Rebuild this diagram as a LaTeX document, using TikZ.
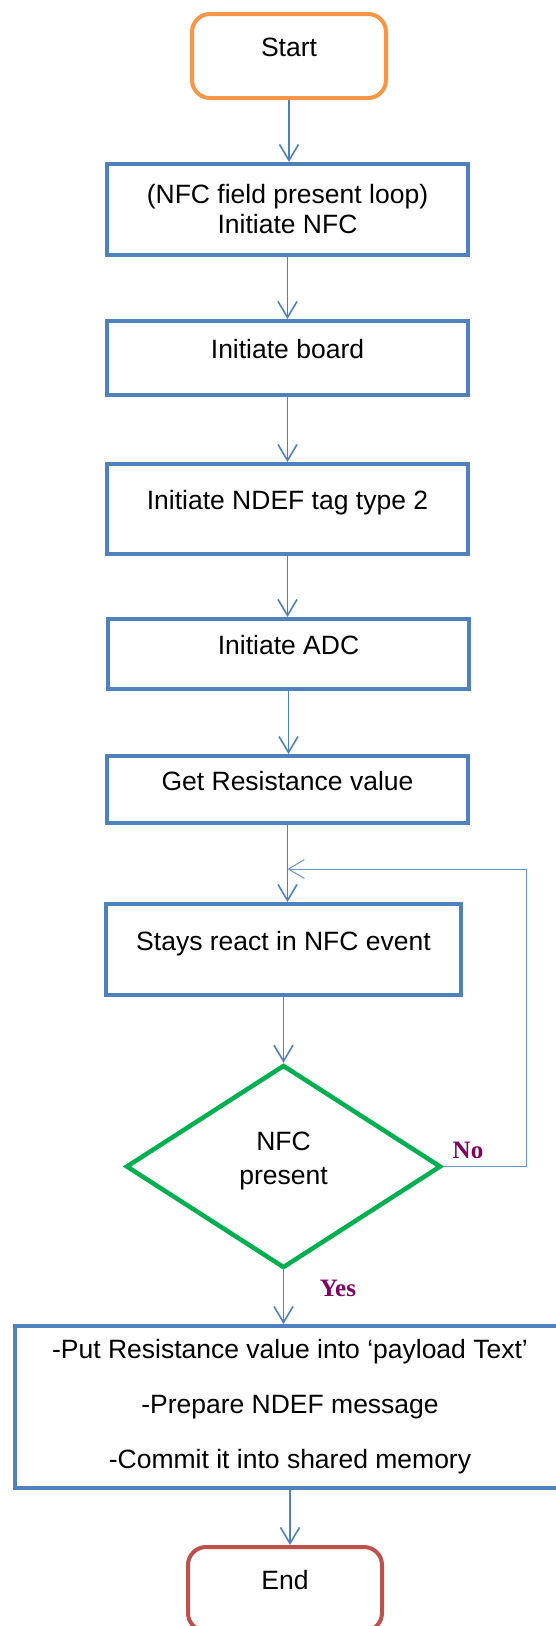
\documentclass[tikz,border=0pt]{standalone}
\usepackage{fontspec}
\setmainfont{Liberation Sans}
\newfontfamily\answerfont{Liberation Serif}
\usepackage{tikz}
\usetikzlibrary{arrows.meta}
\usetikzlibrary{shapes.geometric}
\definecolor{flowblue}{RGB}{79,129,189}
\definecolor{startorange}{RGB}{247,150,70}
\definecolor{stopred}{RGB}{192,80,77}
\definecolor{testgreen}{RGB}{0,176,80}
\definecolor{answercol}{RGB}{128,0,96}

\begin{document}
\begin{tikzpicture}[x=1pt,y=-1pt,
  every node/.style={font=\fontsize{26.5}{30}\selectfont,align=center},
  proc/.style={draw=flowblue,line width=4pt,minimum width=361pt,inner sep=0pt},
  lifted/.style={text height=19pt,text depth=18pt},
  term/.style={rounded corners=18pt,line width=4pt,minimum width=194pt,minimum height=84pt,inner sep=0pt,lifted},
  test/.style={diamond,draw=testgreen,line width=4.5pt,minimum width=315pt,minimum height=203pt,inner sep=0pt,text depth=17pt},
  flow/.style={draw=flowblue,line width=1.6pt,-{Straight Barb[length=16pt,width=19pt]}},
  loopline/.style={draw=flowblue!85,line width=1pt,-{Straight Barb[length=16pt,width=19pt]}},
  answer/.style={font=\answerfont\bfseries\fontsize{25}{28}\selectfont,text=answercol}]
  \useasboundingbox (0,0) rectangle (556,1626);

  \node[term,draw=startorange] (start) at (289,56) {Start};
  \node[proc,minimum height=91pt] (nfc) at (287.5,209.5) {(NFC field present loop)\\Initiate NFC};
  \node[proc,lifted,minimum height=74pt] (board) at (287.5,358) {Initiate board};
  \node[proc,lifted,minimum height=90pt] (ndef) at (287.5,509) {Initiate NDEF tag type 2};
  \node[proc,lifted,minimum height=70pt] (adc) at (288.5,654) {Initiate ADC};
  \node[proc,lifted,minimum height=67pt] (res) at (287.5,789.5) {Get Resistance value};
  \node[proc,lifted,minimum width=355pt,minimum height=91pt] (react) at (283.5,949.5) {Stays react in NFC event};
  \node[test] (present) at (283.5,1166.5) {NFC\\[4pt]present};
  \node[proc,minimum width=550pt,minimum height=162pt] (commit) at (290,1407)
    {-Put Resistance value into ‘payload Text’\\[25pt]-Prepare NDEF message\\[25pt]-Commit it into shared memory};
  \node[term,draw=stopred] (stop) at (285,1589) {End};

  \node[answer] (no) at (468,1150) {No};
  \node[answer] (yes) at (338,1288) {Yes};

  \draw[flow] (start.south) -- (start.south |- nfc.north);
  \draw[flow] (nfc.south) -- (nfc.south |- board.north);
  \draw[flow] (board.south) -- (board.south |- ndef.north);
  \draw[flow] (ndef.south) -- (ndef.south |- adc.north);
  \draw[flow] (adc.south) -- (adc.south |- res.north);
  \draw[flow] (res.south) -- (res.south |- react.north);
  \draw[flow] (react.south) -- (present.north);
  \draw[flow] (present.south) -- (present.south |- commit.north);
  \draw[flow] (commit.south) -- (commit.south |- stop.north);

  \coordinate (loopin) at (287.5,869);
  \coordinate (loopr) at (526,869);
  \draw[loopline] (present.east) -| (loopr) -- (loopin);
\end{tikzpicture}
\end{document}
